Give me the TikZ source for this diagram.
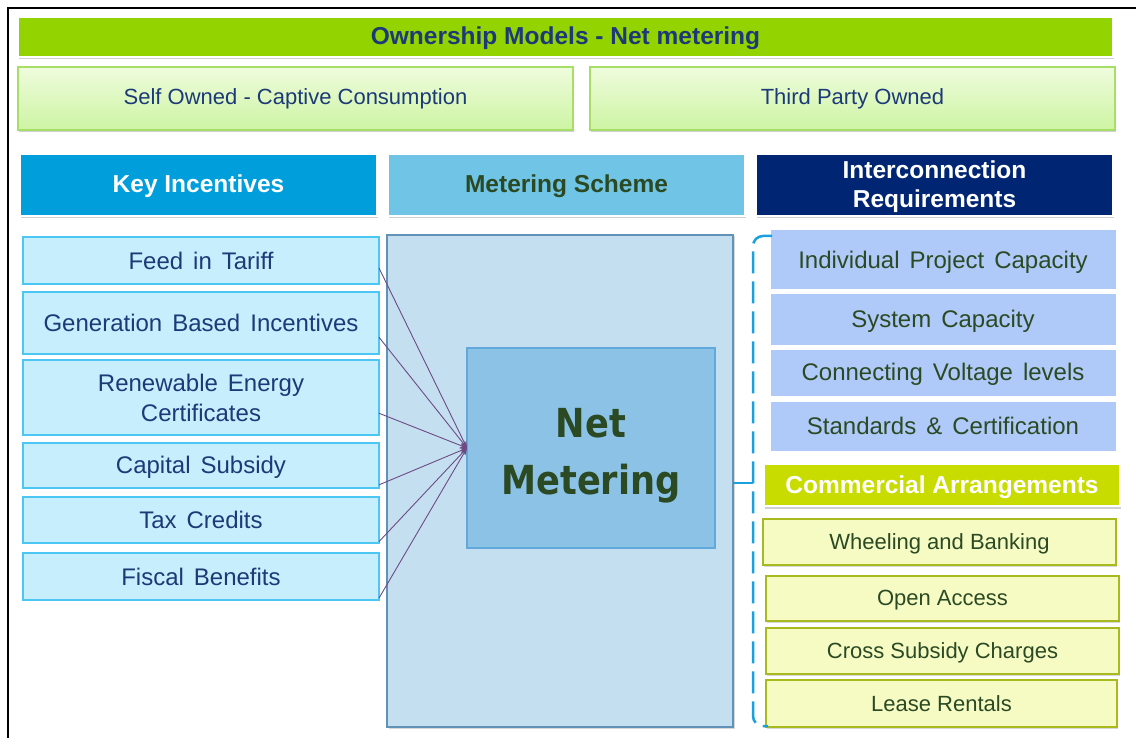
\documentclass[tikz,border=0pt]{standalone}
\usepackage{fontspec}
\setmainfont{Liberation Sans}
\newfontfamily\widefont[WordSpace=1.5]{Liberation Sans}
\newfontfamily\netfont[FakeStretch=0.88]{DejaVu Sans}
\usetikzlibrary{calc,shadows,arrows.meta}
\definecolor{titlegreen}{HTML}{93D400}
\definecolor{navytext}{HTML}{1C3A78}
\definecolor{ownlight}{HTML}{EFFCDD}
\definecolor{owndark}{HTML}{CDF4A3}
\definecolor{ownborder}{HTML}{A6DE66}
\definecolor{keyblue}{HTML}{009FDB}
\definecolor{metblue}{HTML}{70C4E6}
\definecolor{intnavy}{HTML}{002673}
\definecolor{darkgreentext}{HTML}{2B4A24}
\definecolor{itemfill}{HTML}{C6EEFC}
\definecolor{itemborder}{HTML}{4CC6F2}
\definecolor{bigfill}{HTML}{C4E0F0}
\definecolor{bigborder}{HTML}{6192B8}
\definecolor{netfill}{HTML}{8BC2E5}
\definecolor{netborder}{HTML}{62A9DB}
\definecolor{reqfill}{HTML}{AFC9F9}
\definecolor{commgreen}{HTML}{C9DC00}
\definecolor{yelfill}{HTML}{F6FBC4}
\definecolor{yelborder}{HTML}{A9BA1E}
\definecolor{dashblue}{HTML}{1BA0DF}
\definecolor{linkpurple}{HTML}{6E4A85}
\tikzset{
  box/.style={rectangle, inner sep=0pt, outer sep=0pt, anchor=north west, align=center},
  shad/.style={drop shadow={shadow xshift=1.2pt, shadow yshift=-2.5pt, opacity=0.3, fill=black!60}},
  hdr/.style={box, shad, draw=white, line width=1.5pt, font=\fontsize{24.5}{29}\selectfont\bfseries},
  ownbox/.style={box, shad, top color=ownlight, bottom color=owndark, draw=ownborder, line width=1.5pt,
     text=navytext, font=\fontsize{22}{26}\selectfont},
  incbox/.style={box, fill=itemfill, draw=itemborder, line width=2pt, text=navytext,
     font=\fontsize{24}{30}\selectfont\widefont},
  reqbox/.style={box, fill=reqfill, draw=white, line width=1pt, text=darkgreentext,
     font=\fontsize{24}{29}\selectfont\widefont},
  yelbox/.style={box, fill=yelfill, draw=yelborder, line width=2.2pt, text=darkgreentext,
     drop shadow={shadow xshift=1pt, shadow yshift=-1.5pt, opacity=0.25, fill=black!60},
     font=\fontsize{22}{26}\selectfont},
  link/.style={draw=linkpurple, line width=0.9pt, -{Stealth[length=7pt,width=5pt]}},
}
\begin{document}
\begin{tikzpicture}[x=1pt,y=-1pt]
\useasboundingbox (0,0) rectangle (1136,738);
\fill[white] (0,0) rectangle (1136,738);
% frame
\draw[line width=2pt] (7.5,738) -- (7.5,8.5) -- (1136,8.5);

% top rows
\node[hdr, fill=titlegreen, text=navytext, minimum width=1095pt, minimum height=40pt] (title) at (18,17) {\rule{0pt}{20pt}Ownership Models - Net metering};
\node[ownbox, minimum width=555pt, minimum height=63pt] (self) at (18,67) {Self Owned - Captive Consumption};
\node[ownbox, minimum width=525pt, minimum height=63pt] (third) at (590,67) {Third Party Owned};

% column headers
\node[hdr, fill=keyblue, text=white, minimum width=357pt, minimum height=62pt] (key) at (20,154) {\rule{0pt}{21pt}Key Incentives};
\node[hdr, fill=metblue, text=darkgreentext, minimum width=357pt, minimum height=62pt] (mets) at (388,154) {\rule{0pt}{21pt}Metering Scheme};
\node[hdr, fill=intnavy, text=white, minimum width=357pt, minimum height=62pt] (inter) at (756,154) {\rule{0pt}{21pt}Interconnection\\Requirements};

% left incentive items
\node[incbox, minimum width=356pt, minimum height=47pt] (feed) at (23,237) {Feed in Tariff};
\node[incbox, minimum width=356pt, minimum height=62pt] (gen) at (23,292) {Generation Based Incentives};
\node[incbox, minimum width=356pt, minimum height=75pt] (rec) at (23,360) {Renewable Energy\\Certificates};
\node[incbox, minimum width=356pt, minimum height=45pt] (cap) at (23,443) {\rule{0pt}{21pt}Capital Subsidy};
\node[incbox, minimum width=356pt, minimum height=46pt] (tax) at (23,497) {Tax Credits};
\node[incbox, minimum width=356pt, minimum height=47pt] (fisc) at (23,553) {Fiscal Benefits};

% metering scheme
\node[box, fill=bigfill, draw=bigborder, line width=1.2pt,
  drop shadow={shadow xshift=1.5pt, shadow yshift=-1.5pt, opacity=0.25, fill=black!60},
  minimum width=346pt, minimum height=492pt] (big) at (387,235) {};
\node[box, fill=netfill, draw=netborder, line width=1.5pt, text=darkgreentext,
  font=\fontsize{40}{57}\selectfont\netfont\bfseries,
  minimum width=248pt, minimum height=200pt] (net) at (467,348) {\rule{0pt}{45pt}Net\\Metering};

% connectors
\coordinate (sfeed) at ($(feed.north east)!0.66!(feed.south east)$);
\coordinate (sgen)  at ($(gen.north east)!0.73!(gen.south east)$);
\coordinate (srec)  at ($(rec.north east)!0.71!(rec.south east)$);
\coordinate (scap)  at ($(cap.north east)!0.93!(cap.south east)$);
\coordinate (stax)  at ($(tax.north east)!0.97!(tax.south east)$);
\coordinate (sfisc) at ($(fisc.north east)!0.96!(fisc.south east)$);
\foreach \s in {sfeed,sgen,srec,scap,stax,sfisc}
  \draw[link] (\s) -- (net.west);

% right requirement items
\node[reqbox, minimum width=346pt, minimum height=60pt] (ipc) at (770,230) {\rule{0pt}{22pt}Individual Project Capacity};
\node[reqbox, minimum width=346pt, minimum height=51pt] (sys) at (770,294) {\rule{0pt}{21pt}System Capacity};
\node[reqbox, minimum width=346pt, minimum height=47pt] (cvl) at (770,349) {\rule{0pt}{21pt}Connecting Voltage levels};
\node[reqbox, minimum width=346pt, minimum height=50pt] (std) at (770,401) {Standards \& Certification};

\node[hdr, fill=commgreen, text=white, minimum width=356pt, minimum height=42pt] (comm) at (764,464) {\rule{0pt}{22pt}Commercial Arrangements};
\node[yelbox, minimum width=353pt, minimum height=46pt] (wb) at (763,519) {\rule{0pt}{19pt}Wheeling and Banking};
\node[yelbox, minimum width=353pt, minimum height=45pt] (oa) at (766,576) {\rule{0pt}{19pt}Open Access};
\node[yelbox, minimum width=353pt, minimum height=46pt] (cs) at (766,628) {\rule{0pt}{19pt}Cross Subsidy Charges};
\node[yelbox, minimum width=351pt, minimum height=47pt] (lr) at (766,680) {Lease Rentals};

% bracket
\coordinate (brk) at (753,483);
\coordinate (brtop) at (772,236);
\coordinate (brbot) at (768,726);
\draw[dashblue, line width=2.5pt, dash pattern=on 22pt off 8pt, rounded corners=10pt]
  (brtop) -| (brk |- brbot) -- (brbot);
\draw[dashblue, line width=2.5pt] (big.east |- brk) -- (brk);
\end{tikzpicture}
\end{document}
